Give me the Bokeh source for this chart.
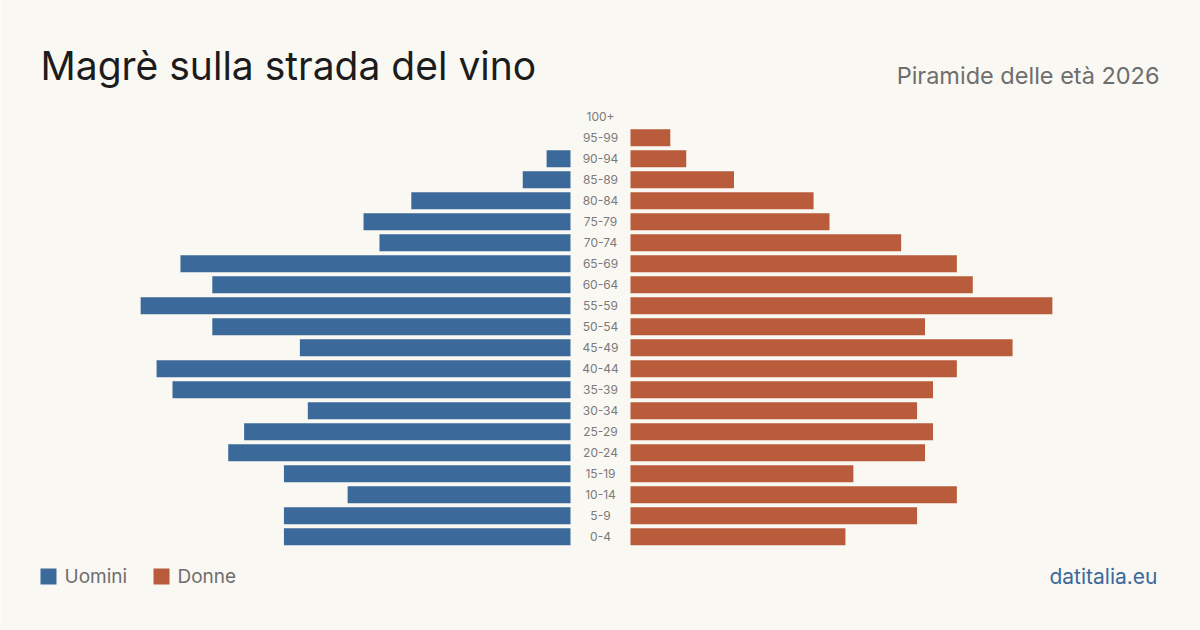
from bokeh.plotting import figure
from bokeh.models import Range1d, ColumnDataSource, Label, BoxAnnotation
from bokeh.core.properties import value
from bokeh.embed import file_html
from bokeh.resources import INLINE

# ---- data ----
age_groups = ["0-4", "5-9", "10-14", "15-19", "20-24", "25-29", "30-34", "35-39",
              "40-44", "45-49", "50-54", "55-59", "60-64", "65-69", "70-74",
              "75-79", "80-84", "85-89", "90-94", "95-99", "100+"]
uomini = [36, 36, 28, 36, 43, 41, 33, 50, 52, 34, 45, 54, 45, 49, 24, 26, 20, 6, 3, 0, 0]
donne = [27, 36, 41, 28, 37, 38, 36, 38, 41, 48, 37, 53, 43, 41, 34, 25, 23, 13, 7, 5, 0]

title = "Magrè sulla strada del vino"
subtitle = "Piramide delle età 2026"
source_text = "datitalia.eu"
legend_labels = ["Uomini", "Donne"]

BLUE = "#3b6a9a"
ORANGE = "#b85c3b"
BG = "#faf8f3"
FONT = "Inter"

W, H = 1200, 630
PX_PER = 7.96          # pixels per person
ROW = 21.0             # pixels per age row
gap = 30 / PX_PER      # half gap for labels

idx = list(range(len(age_groups)))
src = ColumnDataSource(dict(
    y=idx,
    label=age_groups,
    m_left=[-gap - v for v in uomini],
    m_right=[-gap] * len(uomini),
    f_left=[gap] * len(donne),
    f_right=[gap + v for v in donne],
    x0=[0] * len(idx),
))

y_start = -(630 - 536.3) / ROW
p = figure(width=W, height=H, output_backend="svg", toolbar_location=None,
           x_range=Range1d(-W / 2 / PX_PER, W / 2 / PX_PER),
           y_range=Range1d(y_start, y_start + H / ROW),
           min_border=0, background_fill_color=BG, border_fill_color=BG)
p.axis.visible = False
p.grid.visible = False
p.outline_line_color = None

bh = 17 / ROW
p.hbar(y="y", left="m_left", right="m_right", height=bh, source=src,
       fill_color=BLUE, line_color=None)
p.hbar(y="y", left="f_left", right="f_right", height=bh, source=src,
       fill_color=ORANGE, line_color=None)
p.text(x="x0", y="y", text="label", source=src, text_align="center",
       text_baseline="middle", text_font=value(FONT), text_font_size="12px",
       text_color="#7a7a7a")

# titles
p.add_layout(Label(x=40, y=H - 65, x_units="screen", y_units="screen", text=title,
                   text_font=FONT, text_font_size="39px", text_color="#1c1c1c",
                   text_baseline="alphabetic", text_align="left"))
p.add_layout(Label(x=1159, y=H - 75, x_units="screen", y_units="screen", text=subtitle,
                   text_font=FONT, text_font_size="23.5px", text_color="#6e6e6e",
                   text_baseline="alphabetic", text_align="right"))

# legend
for lx, col, lab in [(40, BLUE, legend_labels[0]), (153, ORANGE, legend_labels[1])]:
    p.add_layout(BoxAnnotation(left=lx, right=lx + 16, top=H - 568, bottom=H - 584,
                               left_units="screen", right_units="screen",
                               top_units="screen", bottom_units="screen",
                               fill_color=col, fill_alpha=1, line_color=None))
    p.add_layout(Label(x=lx + 24, y=H - 576, x_units="screen", y_units="screen",
                       text=lab, text_font=FONT, text_font_size="19px",
                       text_color="#6e6e6e", text_baseline="alphabetic"))

p.add_layout(Label(x=1157, y=H - 576, x_units="screen", y_units="screen", text=source_text,
                   text_font=FONT, text_font_size="21px", text_color=BLUE,
                   text_baseline="alphabetic", text_align="right"))

open("out.html", "w").write(file_html(p, INLINE))
